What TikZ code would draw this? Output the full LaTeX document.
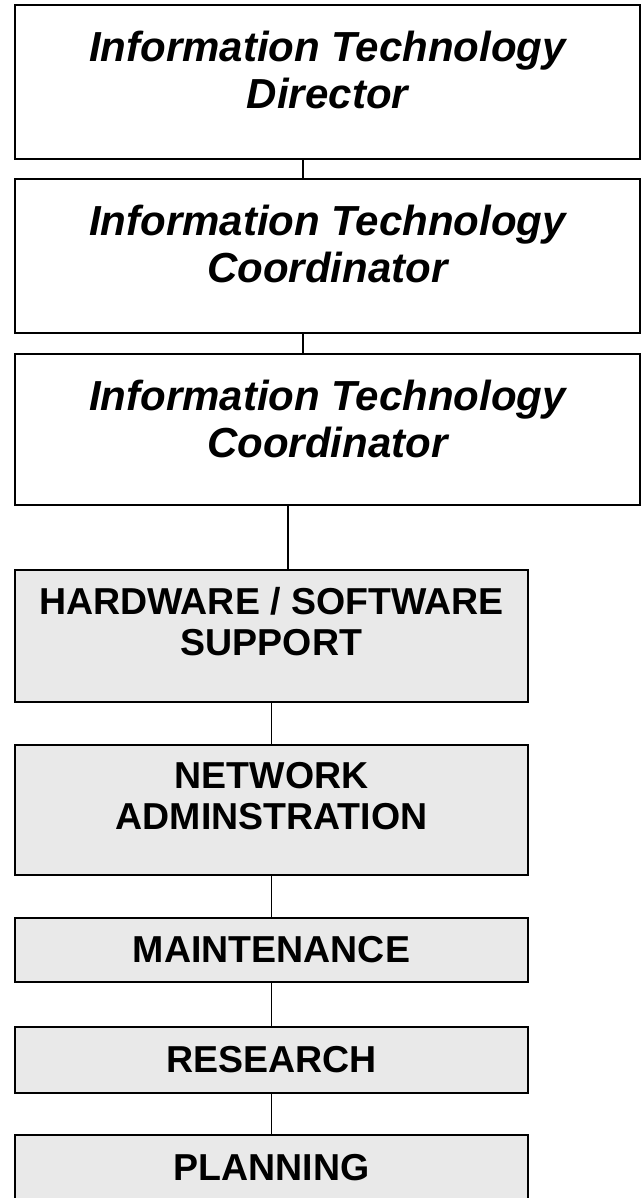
\documentclass[tikz,border=0pt]{standalone}
\usepackage{fontspec}
\setmainfont{Liberation Sans}
\definecolor{boxgray}{RGB}{233,233,233}
\tikzset{
  upbox/.style={draw, line width=1.5pt, minimum width=625pt, inner sep=0pt},
  lowbox/.style={draw, line width=1.5pt, fill=boxgray, minimum width=513pt, inner sep=0pt},
  uptext/.style={font=\fontsize{42}{47}\selectfont\bfseries\itshape, align=center, anchor=north, inner sep=0pt},
  lowtext/.style={font=\fontsize{37.5}{41}\selectfont\bfseries, align=center, inner sep=0pt},
  link/.style={line width=1.2pt}
}
\begin{document}
\begin{tikzpicture}[x=1pt, y=-1pt]
	\useasboundingbox (0,0) rectangle (641,1198);
	\clip (0,0) rectangle (641,1198);
	% upper boxes
	\node[upbox, minimum height=154pt] (dir) at (327.5,82) {};
	\node[uptext] (dirtext) at ([yshift=-27pt]dir.north) {Information Technology\\Director};
	\node[upbox, minimum height=154pt] (coA) at (327.5,256) {};
	\node[uptext] (coAtext) at ([yshift=-27pt]coA.north) {Information Technology\\Coordinator};
	\node[upbox, minimum height=151pt] (coB) at (327.5,429.5) {};
	\node[uptext] (coBtext) at ([yshift=-27pt]coB.north) {Information Technology\\Coordinator};
	% lower boxes
	\node[lowbox, minimum height=132pt] (hw) at (271.5,636) {};
	\node[lowtext, anchor=north] (hwtext) at ([yshift=-18pt]hw.north) {HARDWARE / SOFTWARE\\SUPPORT};
	\node[lowbox, minimum height=130pt] (net) at (271.5,810) {};
	\node[lowtext, anchor=north] (nettext) at ([yshift=-18pt]net.north) {NETWORK\\ADMINSTRATION};
	\node[lowbox, minimum height=64pt, lowtext] (maint) at (271.5,950) {MAINTENANCE};
	\node[lowbox, minimum height=66pt, lowtext] (res) at (271.5,1060) {RESEARCH};
	\node[lowbox, minimum height=65pt, lowtext] (plan) at (271.5,1167.5) {PLANNING};
	% links
	\coordinate (upline) at (303,0);
	\coordinate (midline) at (288,0);
	\draw[link] (dir.south -| upline) -- (coA.north -| upline);
	\draw[link] (coA.south -| upline) -- (coB.north -| upline);
	\draw[link] (coB.south -| midline) -- (hw.north -| midline);
	\draw[link] (hw) -- (net);
	\draw[link] (net) -- (maint);
	\draw[link] (maint) -- (res);
	\draw[link] (res) -- (plan);
\end{tikzpicture}
\end{document}
